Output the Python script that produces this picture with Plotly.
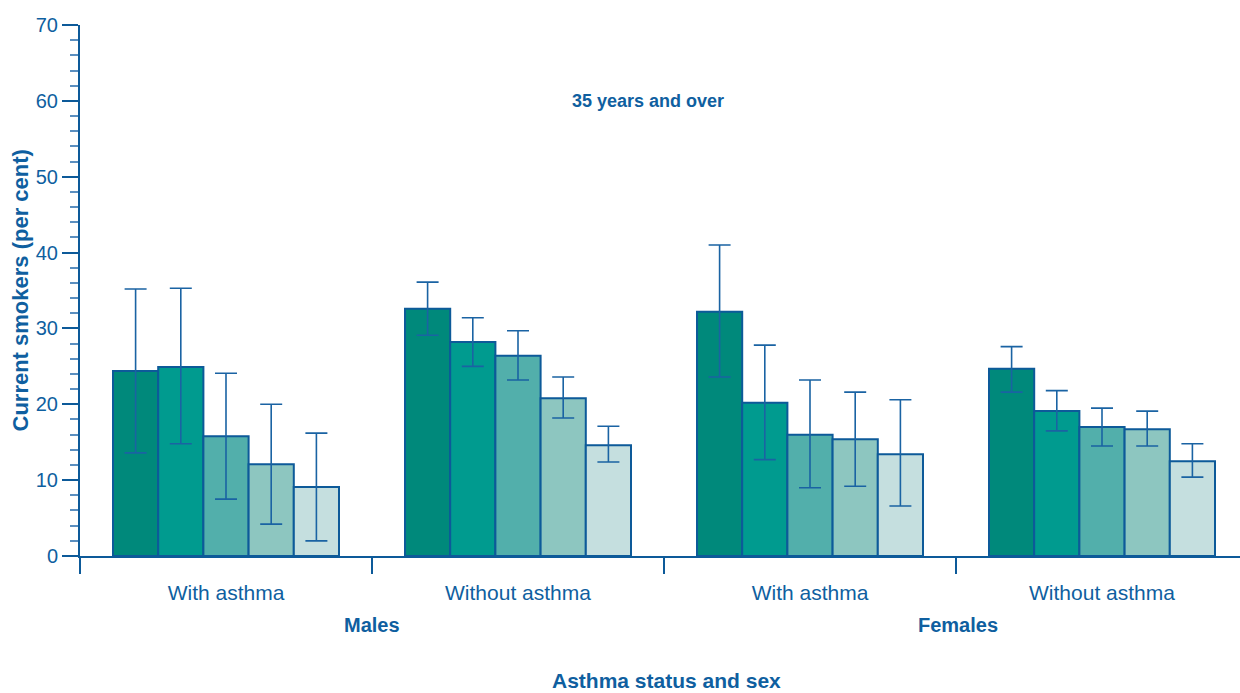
import plotly.graph_objects as go

# Groups along the x axis (asthma status within sex)
groups = ["With asthma", "Without asthma", "With asthma", "Without asthma"]
sexes = ["Males", "Females"]

# Five series per group, current smokers (per cent) with 95% CI bounds
series_names = ["Period 1", "Period 2", "Period 3", "Period 4", "Period 5"]
values = [
    [24.4, 32.6, 32.2, 24.7],
    [24.9, 28.2, 20.2, 19.1],
    [15.8, 26.4, 16.0, 17.0],
    [12.1, 20.8, 15.4, 16.7],
    [9.1, 14.6, 13.4, 12.5],
]
ci_upper = [
    [35.2, 36.1, 41.0, 27.6],
    [35.3, 31.4, 27.8, 21.8],
    [24.1, 29.7, 23.2, 19.5],
    [20.0, 23.6, 21.6, 19.1],
    [16.2, 17.1, 20.6, 14.8],
]
ci_lower = [
    [13.6, 29.1, 23.6, 21.6],
    [14.8, 25.0, 12.7, 16.5],
    [7.5, 23.2, 9.0, 14.5],
    [4.2, 18.2, 9.2, 14.5],
    [2.0, 12.4, 6.6, 10.4],
]

fills = ["#00897B", "#009B8F", "#52AFAB", "#8DC6C0", "#C5DFDF"]
edge = "#0D5A99"
text_blue = "#0F5FA0"
font_family = "Liberation Sans, Arial, sans-serif"

x_pos = list(range(len(groups)))

fig = go.Figure()
for name, vals, up, lo, col in zip(series_names, values, ci_upper, ci_lower, fills):
    fig.add_trace(go.Bar(
        name=name,
        x=x_pos,
        y=vals,
        marker=dict(color=col, line=dict(color=edge, width=2)),
        error_y=dict(
            type="data",
            symmetric=False,
            array=[u - v for u, v in zip(up, vals)],
            arrayminus=[v - l for v, l in zip(vals, lo)],
            color="#1A63A3",
            thickness=1.6,
            width=11,
        ),
    ))

fig.update_layout(
    width=1240,
    height=693,
    margin=dict(l=80, r=0, t=25, b=137),
    plot_bgcolor="white",
    paper_bgcolor="white",
    barmode="group",
    bargap=0.226,
    bargroupgap=0,
    showlegend=False,
    font=dict(family=font_family, color=text_blue),
)

fig.update_xaxes(
    range=[-0.5, -0.5 + 1160 / 292],
    automargin=False,
    tickvals=x_pos,
    ticktext=groups,
    ticks="",
    tickfont=dict(size=21, color=text_blue),
    ticklabelstandoff=17,
    showgrid=False,
    zeroline=False,
    showline=True,
    linecolor=edge,
    linewidth=2,
    minor=dict(
        tickvals=[-0.5, 0.5, 1.5, 2.5, 3.5],
        ticks="outside",
        ticklen=16,
        tickcolor=edge,
        tickwidth=1.5,
        showgrid=False,
    ),
)

fig.update_yaxes(
    range=[0, 70],
    automargin=False,
    tickvals=[0, 10, 20, 30, 40, 50, 60, 70],
    ticks="outside",
    ticklen=16,
    tickwidth=2,
    tickcolor=edge,
    tickfont=dict(size=20, color=text_blue),
    showgrid=False,
    zeroline=False,
    showline=True,
    linecolor=edge,
    linewidth=2,
    minor=dict(dtick=2, ticks="outside", ticklen=8, tickwidth=1.5,
               tickcolor="#5B8FC0", showgrid=False),
)

# Y axis title, rotated, placed just inside the left page edge
fig.add_annotation(
    text="<b>Current smokers (per cent)</b>",
    xref="paper", yref="paper", x=(20 - 80) / 1160, y=0.5,
    xanchor="center", yanchor="middle", textangle=-90,
    showarrow=False, font=dict(size=22, color=text_blue),
)

# Subset label inside the plot area
fig.add_annotation(
    text="<b>35 years and over</b>",
    xref="paper", yref="y", x=(648 - 80) / 1160, y=60,
    showarrow=False, font=dict(size=18, color=text_blue),
)

# Sex labels under each pair of groups
for i, sex in enumerate(sexes):
    fig.add_annotation(
        text=f"<b>{sex}</b>",
        xref="x", yref="paper", x=2 * i + 0.5, y=0, yanchor="middle",
        yshift=-69, xshift=2 * i,
        showarrow=False, font=dict(size=20, color=text_blue),
    )

# X axis title
fig.add_annotation(
    text="<b>Asthma status and sex</b>",
    xref="paper", yref="paper", x=(666 - 80) / 1160, y=0, yanchor="middle",
    yshift=-124,
    showarrow=False, font=dict(size=21, color=text_blue),
)

fig.write_html("out.html")
